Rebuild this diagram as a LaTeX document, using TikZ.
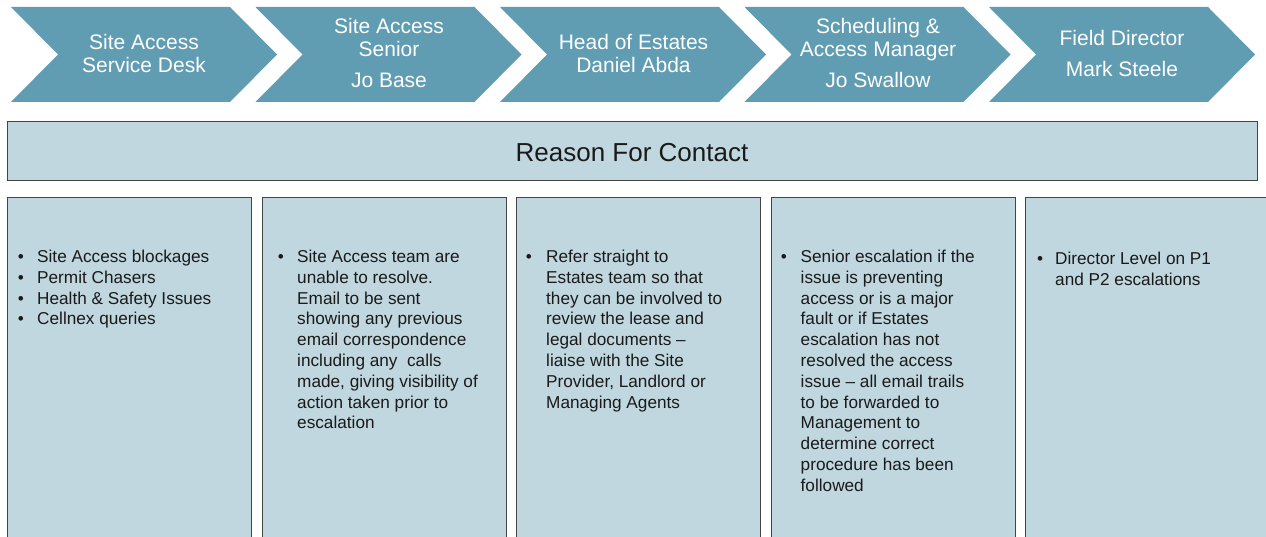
\documentclass[tikz,border=0pt]{standalone}
\usepackage{fontspec}
\setmainfont{Liberation Sans}
\definecolor{chev}{HTML}{619DB2}
\definecolor{boxfill}{HTML}{C0D7DF}
\definecolor{boxline}{HTML}{454545}
\definecolor{txt}{HTML}{1A1A1A}
\newcommand\chevtext[1]{\begin{minipage}[t]{240pt}\centering\fontsize{21}{23}\selectfont #1\end{minipage}}
\newcommand\bodytext[1]{\begin{minipage}[t]{230pt}\raggedright\fontsize{17.2}{20.8}\selectfont #1\end{minipage}}
\tikzset{
  chevshape/.style={fill=chev},
  chevlabel/.style={inner sep=0pt, anchor=base, text=white},
  panel/.style={draw=boxline, fill=boxfill, line width=1.3pt, anchor=north west, inner sep=0pt},
  bulletmark/.style={inner sep=0pt, anchor=base, text=txt, font=\fontsize{17.2}{21}\selectfont},
  bodylabel/.style={inner sep=0pt, anchor=base west, text=txt}
}
\begin{document}
\begin{tikzpicture}[x=1pt,y=-1pt]
\useasboundingbox (0,0) rectangle (1266,537);
\clip (0,0) rectangle (1266,537);
\fill[white] (0,0) rectangle (1266,537);
% chevrons
\foreach \x in {11,255.5,500,744.5,989}{
  \fill[chevshape] (\x,7) -- ++(219,0) -- ++(47,47.5) -- ++(-47,47.5) -- ++(-219,0) -- ++(47,-47.5) -- cycle;
}
\node[chevlabel] (c1) at (144,49.5) {\chevtext{Site Access\\Service Desk}};
\node[chevlabel] (c2) at (389,33.5) {\chevtext{Site Access\\Senior\\[8pt]Jo Base}};
\node[chevlabel] (c3) at (633.5,49.5) {\chevtext{Head of Estates\\Daniel Abda}};
\node[chevlabel] (c4) at (878,33.5) {\chevtext{Scheduling \&\\Access Manager\\[8pt]Jo Swallow}};
\node[chevlabel] (c5) at (1122,45.5) {\chevtext{Field Director\\[8pt]Mark Steele}};
% reason box
\node[panel, minimum width=1250pt, minimum height=59pt] (reason) at (7,121) {};
\node[inner sep=0pt, anchor=base, text=txt, font=\fontsize{26}{30}\selectfont] (reasontext) at (632,161.5) {Reason For Contact};
% panels
\node[panel, minimum width=244pt, minimum height=400pt] (p1) at (7,197) {};
\node[panel, minimum width=244pt, minimum height=400pt] (p2) at (262,197) {};
\node[panel, minimum width=244pt, minimum height=400pt] (p3) at (516,197) {};
\node[panel, minimum width=244pt, minimum height=400pt] (p4) at (771,197) {};
\node[panel, minimum width=244pt, minimum height=400pt] (p5) at (1025,197) {};
% bullets
\node[bulletmark] (b1a) at (21,262.5) {•};
\node[bulletmark] (b1b) at (21,283.3) {•};
\node[bulletmark] (b1c) at (21,304.1) {•};
\node[bulletmark] (b1d) at (21,324.9) {•};
\node[bulletmark] (b2) at (281,262.5) {•};
\node[bulletmark] (b3) at (529,262.5) {•};
\node[bulletmark] (b4) at (784,262.5) {•};
\node[bulletmark] (b5) at (1040,264.5) {•};
% texts
\node[bodylabel] (t1) at (37,262.5) {\bodytext{Site Access blockages\\Permit Chasers\\Health \& Safety Issues\\Cellnex queries}};
\node[bodylabel] (t2) at (297,262.5) {\bodytext{Site Access team are\\unable to resolve.\\Email to be sent\\showing any previous\\email correspondence\\including any\ \ calls\\made, giving visibility of\\action taken prior to\\escalation}};
\node[bodylabel] (t3) at (546,262.5) {\bodytext{Refer straight to\\Estates team so that\\they can be involved to\\review the lease and\\legal documents –\\liaise with the Site\\Provider, Landlord or\\Managing Agents}};
\node[bodylabel] (t4) at (800.5,262.5) {\bodytext{Senior escalation if the\\issue is preventing\\access or is a major\\fault or if Estates\\escalation has not\\resolved the access\\issue – all email trails\\to be forwarded to\\Management to\\determine correct\\procedure has been\\followed}};
\node[bodylabel] (t5) at (1055,264.5) {\bodytext{Director Level on P1\\and P2 escalations}};
\end{tikzpicture}
\end{document}
